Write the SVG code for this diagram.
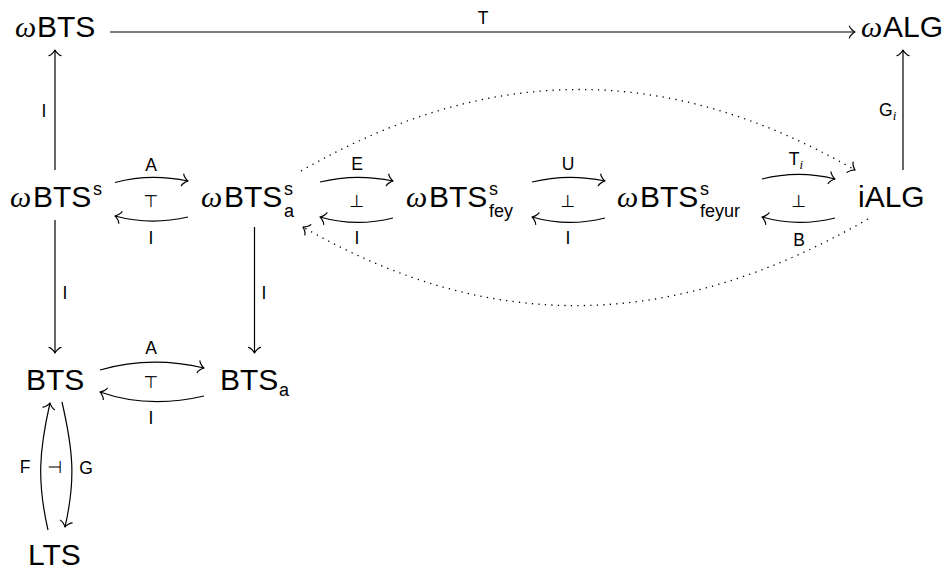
<svg xmlns="http://www.w3.org/2000/svg" width="944" height="572" viewBox="0 0 944 572">
<style>
.n{font-family:"Liberation Sans","DejaVu Sans",sans-serif;font-size:30px;fill:#000}
.w{font-family:"Liberation Serif","DejaVu Serif",serif;font-style:italic}
.sm{font-size:18px}
.lb{font-family:"Liberation Sans","DejaVu Sans",sans-serif;font-size:17.5px;fill:#000}
.sym{font-family:"DejaVu Sans",sans-serif;font-size:17px;fill:#000}
.it{font-family:"Liberation Serif","DejaVu Serif",serif;font-style:italic;font-size:13px}
.e{fill:none;stroke:#000;stroke-width:1.2}
.d{fill:none;stroke:#000;stroke-width:1.3;stroke-dasharray:1.3 5.2;stroke-linecap:butt}
</style>
<defs>
<marker id="ah" markerUnits="userSpaceOnUse" orient="auto" refX="0" refY="0" markerWidth="10" markerHeight="14" overflow="visible">
<path d="M-5.6,-6 C-5.25,-3.75 -1.1,-0.4 0,0 M-5.6,6 C-5.25,3.75 -1.1,0.4 0,0" fill="none" stroke="#000" stroke-width="1.2" stroke-linecap="round" stroke-dasharray="none"/>
</marker>
</defs>
<g id="n-wBTS"><text class="n" y="37"><tspan class="w" x="15">ω</tspan><tspan x="37">BTS</tspan></text></g>
<g id="n-wALG"><text class="n" y="37"><tspan class="w" x="861">ω</tspan><tspan x="883">ALG</tspan></text></g>
<g id="n-wBTSs"><text class="n" y="207"><tspan class="w" x="10">ω</tspan><tspan x="33">BTS</tspan><tspan class="sm" x="93" y="195">s</tspan></text></g>
<g id="n-wBTSsa"><text class="n" y="207"><tspan class="w" x="201">ω</tspan><tspan x="224">BTS</tspan><tspan class="sm" x="284" y="195">s</tspan><tspan class="sm" x="284" y="217">a</tspan></text></g>
<g id="n-wBTSfey"><text class="n" y="207"><tspan class="w" x="406">ω</tspan><tspan x="429">BTS</tspan><tspan class="sm" x="489" y="195">s</tspan><tspan class="sm" x="489" y="217">fey</tspan></text></g>
<g id="n-wBTSfeyur"><text class="n" y="207"><tspan class="w" x="617">ω</tspan><tspan x="640">BTS</tspan><tspan class="sm" x="700" y="195">s</tspan><tspan class="sm" x="700" y="217">feyur</tspan></text></g>
<g id="n-iALG"><text class="n" x="858" y="207">iALG</text></g>
<g id="n-BTS"><text class="n" x="26" y="390">BTS</text></g>
<g id="n-BTSa"><text class="n" y="390"><tspan x="220">BTS</tspan><tspan class="sm" x="279" y="396">a</tspan></text></g>
<g id="n-LTS"><text class="n" x="28" y="565">LTS</text></g>
<g id="connectors">
<path class="e" d="M110,32 H855" marker-end="url(#ah)"/>
<text class="lb" x="483" y="24" text-anchor="middle">T</text>
<path class="e" d="M55,170 V50" marker-end="url(#ah)"/>
<text class="lb" x="44" y="117" text-anchor="middle">I</text>
<path class="e" d="M903,170 V50" marker-end="url(#ah)"/>
<text class="lb" x="879" y="116">G<tspan class="it" dy="4">i</tspan></text>
<path class="e" d="M55,220 V353" marker-end="url(#ah)"/>
<text class="lb" x="65" y="299" text-anchor="middle">I</text>
<path class="e" d="M254.5,227 V353" marker-end="url(#ah)"/>
<text class="lb" x="264" y="299" text-anchor="middle">I</text>
<path class="e" d="M115,182.5 C139,176 164,176 188,181" marker-end="url(#ah)"/>
<path class="e" d="M188,217 C164,222.5 139,222.5 115,216" marker-end="url(#ah)"/>
<text class="lb" x="151" y="171" text-anchor="middle">A</text>
<text class="sym" x="151" y="207" text-anchor="middle" transform="rotate(0.3 151 201)">⊤</text>
<text class="lb" x="151" y="244" text-anchor="middle">I</text>
<path class="e" d="M320,182 C344,176 369,176 393,181" marker-end="url(#ah)"/>
<path class="e" d="M393,218 C369,224 344,224 320,217" marker-end="url(#ah)"/>
<text class="lb" x="357" y="170" text-anchor="middle">E</text>
<text class="sym" x="357" y="207" text-anchor="middle">⊥</text>
<text class="lb" x="357" y="244" text-anchor="middle">I</text>
<path class="e" d="M532,182 C556,176 581,176 605,181" marker-end="url(#ah)"/>
<path class="e" d="M605,218 C581,224 556,224 532,217" marker-end="url(#ah)"/>
<text class="lb" x="568" y="170" text-anchor="middle">U</text>
<text class="sym" x="568" y="207" text-anchor="middle">⊥</text>
<text class="lb" x="568" y="244" text-anchor="middle">I</text>
<path class="e" d="M762,179 C786,173 811,173 835,179" marker-end="url(#ah)"/>
<path class="e" d="M835,218 C811,224 786,224 762,217" marker-end="url(#ah)"/>
<text class="lb" x="796" y="165" text-anchor="middle">T<tspan class="it" dy="4">i</tspan></text>
<text class="sym" x="799" y="207" text-anchor="middle">⊥</text>
<text class="lb" x="799" y="246" text-anchor="middle">B</text>
<path class="e" d="M100,370 C134,360 170,360 204,368" marker-end="url(#ah)"/>
<path class="e" d="M204,396 C170,404 134,404 100,392" marker-end="url(#ah)"/>
<text class="lb" x="151" y="354" text-anchor="middle">A</text>
<text class="sym" x="151" y="388" text-anchor="middle" transform="rotate(0.3 151 382)">⊤</text>
<text class="lb" x="151" y="424" text-anchor="middle">I</text>
<path class="e" d="M48,530 C37,482 39,451 50,403" marker-end="url(#ah)"/>
<path class="e" d="M62,402 C73,450 76,479 65,527" marker-end="url(#ah)"/>
<text class="lb" x="25" y="473" text-anchor="middle">F</text>
<text class="sym" x="55" y="473" text-anchor="middle">⊣</text>
<text class="lb" x="86" y="474" text-anchor="middle">G</text>
<path class="d" d="M301,171 C489,63 667,62 855,170" marker-end="url(#ah)"/>
<path class="d" d="M868,219 C677,329 494,337 303,227" marker-end="url(#ah)"/>
</g>
</svg>
